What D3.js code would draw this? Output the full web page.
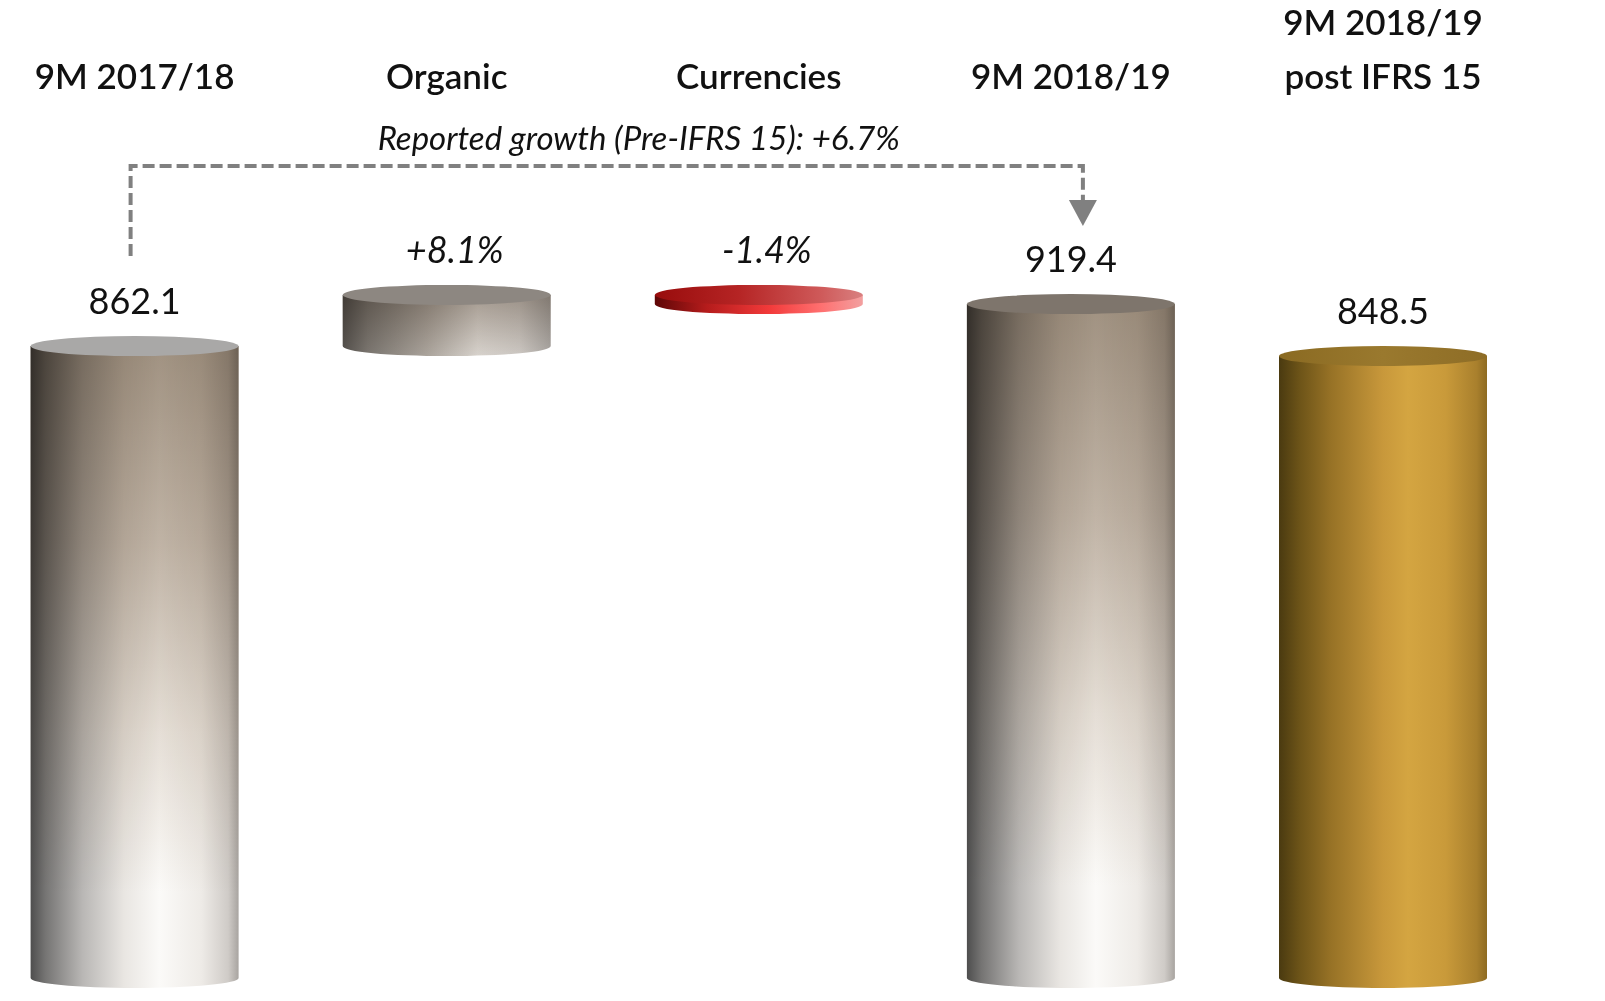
<!DOCTYPE html>
<html>
<head>
<meta charset="utf-8">
<script src="https://cdn.jsdelivr.net/npm/d3@7"></script>
<style>
body { margin: 0; background: #fff; }
svg { display: block; font-family: Lato, "Open Sans", sans-serif; }
</style>
</head>
<body>
<div id="chart"></div>
<script>
var categories = [["9M 2017/18"], ["Organic"], ["Currencies"], ["9M 2018/19"], ["9M 2018/19", "post IFRS 15"]];
var kinds = ["total", "delta", "delta", "total", "total"];
var values = [862.1, 69.8, -12.5, 919.4, 848.5];
var valueLabels = ["862.1", "+8.1%", "-1.4%", "919.4", "848.5"];
var growthNote = "Reported growth (Pre-IFRS 15): +6.7%";

var width = 1605, height = 1001;
var barW = 208, ry = 10;

var svg = d3.select('#chart').append('svg')
    .attr('width', width)
    .attr('height', height);

var x = d3.scalePoint()
    .domain(d3.range(categories.length))
    .range([134.6, 1383]);

var y = d3.scaleLinear()
    .domain([0, 1000])
    .range([978, 245]);

// waterfall: running total for the delta bars
var run = 0;
var bars = values.map(function(v, i) {
    var lo, hi;
    if (kinds[i] === 'total') { lo = 0; hi = v; run = v; }
    else { lo = run; hi = run + v; run = hi; if (hi < lo) { var t = lo; lo = hi; hi = t; } }
    return {i: i, lo: lo, hi: hi};
});

var defs = svg.append('defs');
function grad(id, vertical, stops) {
    var g = defs.append('linearGradient').attr('id', id)
        .attr('x1', 0).attr('y1', 0)
        .attr('x2', vertical ? 0 : 1).attr('y2', vertical ? 1 : 0);
    stops.forEach(function(s) {
        g.append('stop').attr('offset', s[0]).attr('stop-color', s[1])
            .attr('stop-opacity', s[2] == null ? 1 : s[2]);
    });
}

grad('graySide', false, [[0, '#4e4e4e'], [0.07, '#757473'], [0.25, '#b9b7b5'], [0.45, '#e9e6e2'], [0.62, '#fbfaf8'], [0.82, '#eeebe7'], [0.95, '#cfcbc7'], [1, '#a8a4a0']]);
grad('grayShade', true, [[0, '#a39585'], [0.3, '#c2b6a9'], [0.6, '#e9e3dc'], [0.85, '#ffffff']]);
grad('orgSide', false, [[0, '#56524e'], [0.12, '#7b7670'], [0.4, '#aaa39b'], [0.65, '#d8d3cd'], [0.85, '#cdc8c3'], [1, '#aaa6a2']]);
grad('orgShade', true, [[0, '#c0b8b0'], [1, '#ffffff']]);
grad('redSide', false, [[0, '#5e0606'], [0.25, '#b51c1c'], [0.55, '#f23a3a'], [0.8, '#ff7070'], [1, '#f2a0a0']]);
grad('redTop', false, [[0, '#980c0c'], [0.4, '#b52424'], [0.8, '#cf5a5a'], [1, '#d98080']]);
grad('goldSide', false, [[0, '#4a3a10'], [0.1, '#6d5418'], [0.25, '#977226'], [0.5, '#c8983b'], [0.62, '#d4a541'], [0.8, '#c99a3a'], [0.95, '#a9802d'], [1, '#8e6b22']]);
grad('goldTop', false, [[0, '#8a6a22'], [0.5, '#9a792e'], [1, '#8e6d26']]);

var styles = [
    {side: 'graySide', shade: 'grayShade', top: '#a9a8a7'},
    {side: 'orgSide', shade: 'orgShade', top: '#8d8781'},
    {side: 'redSide', shade: null, top: 'url(#redTop)'},
    {side: 'graySide', shade: 'grayShade', top: '#7e756c'},
    {side: 'goldSide', shade: null, top: 'url(#goldTop)'}
];

function sidePath(d) {
    var x0 = x(d.i) - barW / 2, x1 = x(d.i) + barW / 2;
    var yt = y(d.hi), yb = y(d.lo);
    return 'M' + x0 + ',' + yt + 'L' + x0 + ',' + yb +
        'A' + (barW / 2) + ',' + ry + ' 0 0 0 ' + x1 + ',' + yb +
        'L' + x1 + ',' + yt + 'Z';
}

var cyl = svg.selectAll('g.cyl')
    .data(bars)
    .enter()
    .append('g')
    .attr('class', 'cyl');

cyl.append('path')
    .attr('d', sidePath)
    .attr('fill', function(d) { return 'url(#' + styles[d.i].side + ')'; });

// darker, browner tone towards the top of the tall bars
cyl.filter(function(d) { return styles[d.i].shade; })
    .append('path')
    .attr('d', sidePath)
    .attr('fill', function(d) { return 'url(#' + styles[d.i].shade + ')'; })
    .style('mix-blend-mode', 'multiply');

cyl.append('ellipse')
    .attr('cx', function(d) { return x(d.i); })
    .attr('cy', function(d) { return y(d.hi); })
    .attr('rx', barW / 2)
    .attr('ry', ry)
    .attr('fill', function(d) { return styles[d.i].top; });

// value labels
svg.selectAll('text.val')
    .data(bars)
    .enter()
    .append('text')
    .attr('class', 'val')
    .attr('x', function(d) { return x(d.i) + (kinds[d.i] === 'delta' ? 8 : 0); })
    .attr('y', function(d) { return y(d.hi) - ry - 22; })
    .attr('text-anchor', 'middle')
    .attr('font-size', 36)
    .attr('font-style', function(d) { return kinds[d.i] === 'delta' ? 'italic' : 'normal'; })
    .attr('fill', '#111')
    .text(function(d) { return valueLabels[d.i]; });

// category headers
var head = svg.selectAll('text.cat')
    .data(categories)
    .enter()
    .append('text')
    .attr('class', 'cat')
    .attr('text-anchor', 'middle')
    .attr('font-size', 35)
    .attr('font-weight', 600)
    .attr('fill', '#111')
    .attr('x', function(d, i) { return x(i); })
    .attr('y', function(d) { return 89 - (d.length - 1) * 54; });

head.selectAll('tspan')
    .data(function(d) { return d; })
    .enter()
    .append('tspan')
    .attr('x', function() { return d3.select(this.parentNode).attr('x'); })
    .attr('dy', function(d, j) { return j ? 54 : 0; })
    .text(function(d) { return d; });

// reported growth bracket
var lx = x(0) - 4, rx = x(3) + 12, ly = 166;
svg.append('path')
    .attr('d', 'M' + lx + ',' + 256 + 'L' + lx + ',' + ly + 'L' + rx + ',' + ly + 'L' + rx + ',' + 202)
    .attr('fill', 'none')
    .attr('stroke', '#808080')
    .attr('stroke-width', 4)
    .attr('stroke-dasharray', '12 5');

svg.append('path')
    .attr('d', 'M' + (rx - 14) + ',200L' + (rx + 14) + ',200L' + rx + ',226Z')
    .attr('fill', '#808080');

svg.append('text')
    .attr('x', (lx + rx) / 2 + 32)
    .attr('y', 150)
    .attr('text-anchor', 'middle')
    .attr('font-size', 33)
    .attr('font-style', 'italic')
    .attr('fill', '#111')
    .text(growthNote);
</script>
</body>
</html>
